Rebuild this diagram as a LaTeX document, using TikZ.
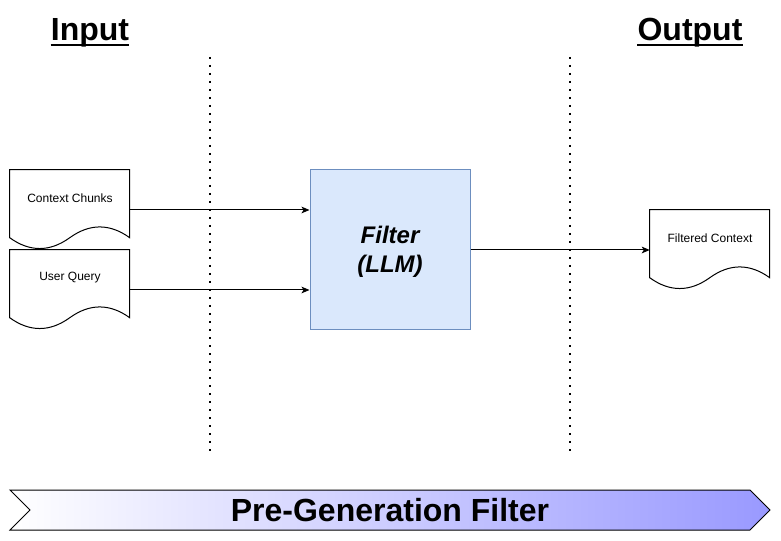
\documentclass[tikz,border=0pt]{standalone}
\usepackage{fontspec}
\setmainfont{Liberation Sans}
\usetikzlibrary{arrows.meta,calc}
\definecolor{fillblue}{HTML}{DAE8FC}
\definecolor{strokeblue}{HTML}{6C8EBF}
\definecolor{bandend}{HTML}{9999FF}
\tikzset{
  title/.style={font=\fontsize{24}{28}\selectfont\bfseries, inner sep=0pt, anchor=base},
  docbox/.style={draw=none, minimum width=90pt, minimum height=60pt, inner sep=0pt},
  doctext/.style={font=\fontsize{9}{11}\selectfont, inner sep=0pt},
  filterbox/.style={draw=strokeblue, fill=fillblue, line width=0.75pt, minimum width=120pt, minimum height=120pt, inner sep=0pt},
  filtertext/.style={align=center, inner sep=0pt, font=\fontsize{18}{21.6}\selectfont\bfseries\itshape},
  conn/.style={line width=0.75pt, -{Stealth[length=6pt,width=5pt,inset=1.5pt]}},
  divider/.style={line width=1.5pt, dash pattern=on 1.5pt off 4.5pt},
  docline/.style={line width=0.75pt, draw=black, fill=white},
}
\newcommand{\docshape}[1]{%
  \draw[docline, shift={(#1.north west)}] (0,0) -- (120,0) -- (120,68)
    .. controls (100,53.6) and (80,53.6) .. (60,68)
    .. controls (40,82.4) and (20,82.4) .. (0,68) -- cycle;}
\begin{document}
\begin{tikzpicture}[x=0.75pt,y=-0.75pt]
\useasboundingbox (0,0) rectangle (781,541);

% titles
\node[title] (inp) at (90,41) {Input};
\draw[line width=2pt] ($(inp.base west)+(0,4)$) -- ($(inp.base east)+(0,4)$);
\node[title] (outp) at (690,41) {Output};
\draw[line width=2pt] ($(outp.base west)+(0,4)$) -- ($(outp.base east)+(0,4)$);

% dividers
\coordinate (d1t) at (210,57);
\coordinate (d1b) at (210,452);
\coordinate (d2t) at (570,57);
\coordinate (d2b) at (570,452);
\draw[divider] (d1t) -- (d1b);
\draw[divider] (d2t) -- (d2b);

% documents
\node[docbox] (cc) at (70,210) {};
\docshape{cc}
\node[doctext] (cct) at (70,198) {Context Chunks};

\node[docbox] (uq) at (70,290) {};
\docshape{uq}
\node[doctext] (uqt) at (70,278) {User Query};

\node[docbox] (fc) at (710,250) {};
\docshape{fc}
\node[doctext] (fct) at (710,238) {Filtered Context};

% filter
\node[filterbox] (filter) at (390,250) {};
\node[filtertext] (filtert) at (390,252) {Filter\\(LLM)};

% connectors
\draw[conn] (cc.east) -- (cc.east -| filter.west);
\draw[conn] (uq.east) -- (uq.east -| filter.west);
\draw[conn] (filter.east) -- (fc.west);

% banner
\coordinate (b1) at (10,490);
\coordinate (b2) at (750,490);
\coordinate (b3) at (770,510);
\coordinate (b4) at (750,530);
\coordinate (b5) at (10,530);
\coordinate (b6) at (30,510);
\path[left color=white, right color=bandend, draw=black, line width=0.75pt]
  (b1) -- (b2) -- (b3) -- (b4) -- (b5) -- (b6) -- cycle;
\node[font=\fontsize{24}{28}\selectfont\bfseries, inner sep=0pt] (band) at (390,510) {Pre-Generation Filter};
\end{tikzpicture}
\end{document}
